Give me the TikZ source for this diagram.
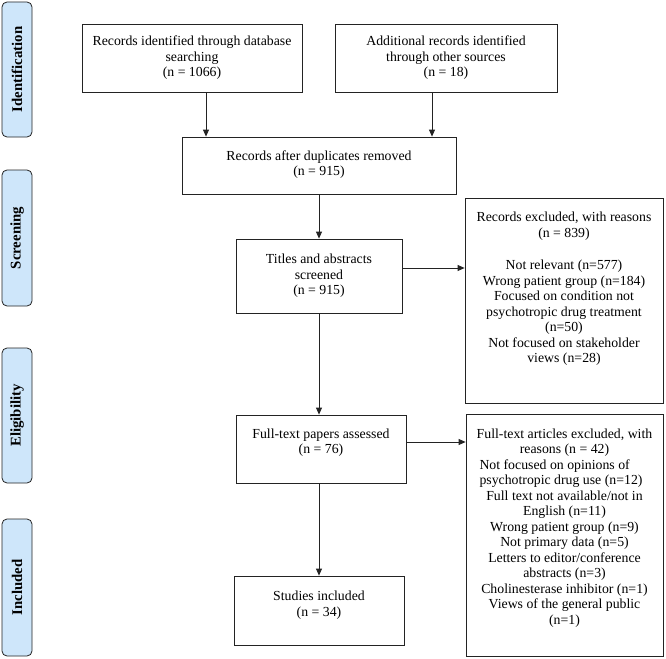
\documentclass[tikz,border=0pt]{standalone}
\usepackage{fontspec}
\usepackage{calc}
\setmainfont{Liberation Serif}
\usetikzlibrary{arrows.meta}
\definecolor{sidefill}{RGB}{206,230,250}
\definecolor{linecol}{RGB}{35,35,35}
\begin{document}
\begin{tikzpicture}[x=1pt,y=-1pt,
  every node/.style={font=\fontsize{13.8}{15.5}\selectfont},
  box/.style={draw=linecol, line width=0.8pt, fill=white, inner sep=0pt, align=center},
  txt/.style={inner sep=0pt, align=center},
  side/.style={draw=linecol, line width=0.8pt, fill=sidefill, rounded corners=5pt,
    minimum height=30pt, inner sep=0pt, rotate=90,
    font=\fontsize{14.8}{16}\selectfont\bfseries},
  arr/.style={draw=linecol, line width=0.8pt, -{Triangle[length=7pt,width=6pt]}}]
\useasboundingbox (0,0) rectangle (666,658);

% phase labels
\node[side, minimum width=135pt] (ident) at (17,69.5) {Identification};
\node[side, minimum width=136pt] (scr) at (17,238) {Screening};
\node[side, minimum width=135pt] (elig) at (17,415.5) {Eligibility};
\node[side, minimum width=137pt] (incl) at (17,587.5) {Included};

% boxes
\node[box, minimum width=220pt, minimum height=68pt] (db) at (192,58)
  {Records identified through database\\ searching\\ (n = 1066)};
\node[box, minimum width=222pt, minimum height=68pt] (add) at (446,58)
  {Additional records identified\\ through other sources\\ (n = 18)};
\node[box, minimum width=274pt, minimum height=57pt] (dup) at (319,165.5) {};
\node[txt] (dupt) at (319,164.5) {Records after duplicates removed\\ (n = 915)};
\node[box, minimum width=166pt, minimum height=74pt] (title) at (319,276)
  {Titles and abstracts\\ screened\\ (n = 915)};
\node[box, minimum width=198pt, minimum height=205pt] (ex1) at (564,300.5) {};
\node[txt, anchor=north] (ex1t) at (564,212)
  {Records excluded, with reasons\\ (n = 839)\\[17pt]
   Not relevant (n=577)\\ Wrong patient group (n=184)\\ Focused on condition not\\
   psychotropic drug treatment\\ (n=50)\\ Not focused on stakeholder\\ views (n=28)};
\node[box, minimum width=170pt, minimum height=68pt] (full) at (321,449) {};
\node[txt] (fullt) at (321,442.5) {Full-text papers assessed\\ (n = 76)};
\node[box, minimum width=197pt, minimum height=242pt] (ex2) at (564.5,535) {};
\node[txt, anchor=north] (ex2t) at (564.5,428.5)
  {Full-text articles excluded, with\\ reasons (n = 42)\\
   \hspace*{-7pt}\makebox[\widthof{psychotropic drug use (n=12)}][l]{Not focused on opinions of}\\
   \hspace*{-7pt}psychotropic drug use (n=12)\\
   Full text not available/not in\\ English (n=11)\\ Wrong patient group (n=9)\\
   Not primary data (n=5)\\ Letters to editor/conference\\ abstracts (n=3)\\
   Cholinesterase inhibitor (n=1)\\ Views of the general public\\ (n=1)};
\node[box, minimum width=170pt, minimum height=69pt] (inc) at (319,610.5) {};
\node[txt] (inct) at (319,605) {Studies included\\ (n = 34)};

% connector guides
\coordinate (ax1) at (206,100);
\coordinate (ax2) at (432,100);
\coordinate (ay1) at (420,268);
\coordinate (ay2) at (420,442);

% connectors
\draw[arr] (db.south -| ax1) -- (dup.north -| ax1);
\draw[arr] (add.south -| ax2) -- (dup.north -| ax2);
\draw[arr] (dup.south) -- (title.north);
\draw[arr] (title.south) -- (title.south |- full.north);
\draw[arr] (title.south |- full.south) -- (title.south |- inc.north);
\draw[arr] (title.east |- ay1) -- (ex1.west |- ay1);
\draw[arr] (full.east |- ay2) -- (ex2.west |- ay2);
\end{tikzpicture}
\end{document}
